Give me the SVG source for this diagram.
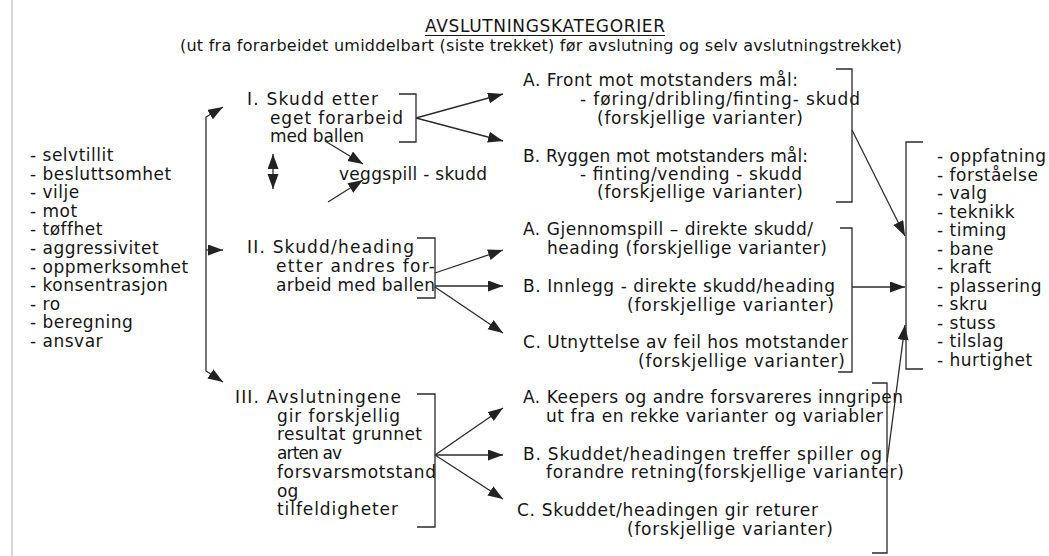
<svg xmlns="http://www.w3.org/2000/svg" width="1049" height="556" viewBox="0 0 1049 556">
<style>
text{font-family:"DejaVu Sans","Liberation Sans",sans-serif;font-size:17px;fill:#151515}
.lst{letter-spacing:0.5px}
.sub{font-size:16px}
.ln{fill:none;stroke:#2a2a2a;stroke-width:1.3}
.ar{fill:none;stroke:#2a2a2a;stroke-width:1.3;marker-end:url(#ah)}
</style>
<defs>
<marker id="ah" markerUnits="userSpaceOnUse" markerWidth="16" markerHeight="12" refX="15" refY="5.5" orient="auto">
<path d="M0,0 L15,5.5 L0,11 z" fill="#222"/>
</marker>
</defs>
<rect width="1049" height="556" fill="#fff"/>
<line x1="12" y1="0" x2="12" y2="556" stroke="#c8c8c8" stroke-width="1.5"/>

<g id="title">
<text x="425" y="32" textLength="240" lengthAdjust="spacing">AVSLUTNINGSKATEGORIER</text>
<line x1="425" y1="35.5" x2="665" y2="35.5" stroke="#1a1a1a" stroke-width="1.2"/>
<text class="sub" x="180" y="51" textLength="722" lengthAdjust="spacing">(ut fra forarbeidet umiddelbart (siste trekket) før avslutning og selv avslutningstrekket)</text>
</g>

<g id="left-list" class="lst">
<text class="lst" x="30" y="161">- selvtillit</text>
<text class="lst" x="30" y="179.6">- besluttsomhet</text>
<text class="lst" x="30" y="198.2">- vilje</text>
<text class="lst" x="30" y="216.8">- mot</text>
<text class="lst" x="30" y="235.4">- tøffhet</text>
<text class="lst" x="30" y="254">- aggressivitet</text>
<text class="lst" x="30" y="272.6">- oppmerksomhet</text>
<text class="lst" x="30" y="291.2">- konsentrasjon</text>
<text class="lst" x="30" y="309.8">- ro</text>
<text class="lst" x="30" y="328.4">- beregning</text>
<text class="lst" x="30" y="347">- ansvar</text>
</g>

<g id="node-I">
<text x="247" y="105" textLength="131" lengthAdjust="spacing">I. Skudd etter</text>
<text x="270" y="123.5" textLength="133" lengthAdjust="spacing">eget forarbeid</text>
<text x="270" y="142" textLength="94" lengthAdjust="spacing">med ballen</text>
</g>
<g id="node-veggspill">
<text x="339" y="180" textLength="148" lengthAdjust="spacing">veggspill - skudd</text>
</g>
<g id="node-II">
<text x="247" y="253" textLength="167" lengthAdjust="spacing">II. Skudd/heading</text>
<text x="276" y="272" textLength="159" lengthAdjust="spacing">etter andres for-</text>
<text x="276" y="291" textLength="159" lengthAdjust="spacing">arbeid med ballen</text>
</g>
<g id="node-III">
<text x="235" y="403" textLength="166" lengthAdjust="spacing">III. Avslutningene</text>
<text x="277" y="421.7" textLength="123" lengthAdjust="spacing">gir forskjellig</text>
<text x="277" y="440.4" textLength="145" lengthAdjust="spacing">resultat grunnet</text>
<text x="277" y="459.1" textLength="65" lengthAdjust="spacing">arten av</text>
<text x="277" y="477.8" textLength="159" lengthAdjust="spacing">forsvarsmotstand</text>
<text x="277" y="496.5">og</text>
<text x="277" y="515.2" textLength="121" lengthAdjust="spacing">tilfeldigheter</text>
</g>

<g id="node-I-A">
<text x="523" y="86" textLength="275" lengthAdjust="spacing">A. Front mot motstanders mål:</text>
<text x="580" y="105" textLength="280" lengthAdjust="spacing">- føring/dribling/finting- skudd</text>
<text x="597" y="124" textLength="206" lengthAdjust="spacing">(forskjellige varianter)</text>
</g>
<g id="node-I-B">
<text x="523" y="162" textLength="285" lengthAdjust="spacing">B. Ryggen mot motstanders mål:</text>
<text x="580" y="180" textLength="222" lengthAdjust="spacing">- finting/vending - skudd</text>
<text x="597" y="198" textLength="206" lengthAdjust="spacing">(forskjellige varianter)</text>
</g>
<g id="node-II-A">
<text x="523" y="235" textLength="290" lengthAdjust="spacing">A. Gjennomspill – direkte skudd/</text>
<text x="547" y="254" textLength="280" lengthAdjust="spacing">heading (forskjellige varianter)</text>
</g>
<g id="node-II-B">
<text x="523" y="292" textLength="312" lengthAdjust="spacing">B. Innlegg - direkte skudd/heading</text>
<text x="627" y="311" textLength="207" lengthAdjust="spacing">(forskjellige varianter)</text>
</g>
<g id="node-II-C">
<text x="523" y="348" textLength="325" lengthAdjust="spacing">C. Utnyttelse av feil hos motstander</text>
<text x="638" y="367" textLength="207" lengthAdjust="spacing">(forskjellige varianter)</text>
</g>
<g id="node-III-A">
<text x="523" y="403" textLength="380" lengthAdjust="spacing">A. Keepers og andre forsvareres inngripen</text>
<text x="546" y="422" textLength="337" lengthAdjust="spacing">ut fra en rekke varianter og variabler</text>
</g>
<g id="node-III-B">
<text x="523" y="460" textLength="359" lengthAdjust="spacing">B. Skuddet/headingen treffer spiller og</text>
<text x="546" y="478" textLength="358" lengthAdjust="spacing">forandre retning(forskjellige varianter)</text>
</g>
<g id="node-III-C">
<text x="517" y="516" textLength="301" lengthAdjust="spacing">C. Skuddet/headingen gir returer</text>
<text x="627" y="535" textLength="206" lengthAdjust="spacing">(forskjellige varianter)</text>
</g>

<g id="right-list">
<text class="lst" x="937" y="162">- oppfatning</text>
<text class="lst" x="937" y="180.5">- forståelse</text>
<text class="lst" x="937" y="199">- valg</text>
<text class="lst" x="937" y="217.5">- teknikk</text>
<text class="lst" x="937" y="236">- timing</text>
<text class="lst" x="937" y="254.5">- bane</text>
<text class="lst" x="937" y="273">- kraft</text>
<text class="lst" x="937" y="291.5">- plassering</text>
<text class="lst" x="937" y="310">- skru</text>
<text class="lst" x="937" y="328.5">- stuss</text>
<text class="lst" x="937" y="347">- tilslag</text>
<text class="lst" x="937" y="365.5">- hurtighet</text>
</g>

<g id="connectors">
<path class="ar" d="M206,250 L206,117 L223,107"/>
<path class="ar" d="M206,250 L206,371 L223,382"/>
<path class="ar" d="M206,250 L223,250"/>

<path class="ln" d="M399,94 H416 V142 H399"/>
<path class="ar" d="M416,118 L503,94"/>
<path class="ar" d="M416,118 L503,141"/>
<path class="ar" d="M325,141 L363,164"/>
<path class="ar" d="M328,202 L363,180"/>
<path class="ar" d="M273,172 L273,154"/>
<path class="ar" d="M273,172 L273,189"/>

<path class="ln" d="M417,238 H435 V298 H417"/>
<path class="ar" d="M435,273 L503,250"/>
<path class="ar" d="M435,286 L503,286"/>
<path class="ar" d="M435,287 L503,333"/>

<path class="ln" d="M417,394 H435 V527 H417"/>
<path class="ar" d="M435,455 L503,408"/>
<path class="ar" d="M435,455 L503,455"/>
<path class="ar" d="M435,455 L503,499"/>

<path class="ln" d="M836,69 H852 V202 H836"/>
<path class="ar" d="M852,130 L905,236"/>
<path class="ln" d="M840,228 H852 V372 H838"/>
<path class="ar" d="M852,287 L905,287"/>
<path class="ln" d="M872,383 H887 V553 H872"/>
<path class="ar" d="M887,462 L905,325"/>

<path class="ln" d="M923,142 H906 V369 H923"/>
</g>
</svg>
